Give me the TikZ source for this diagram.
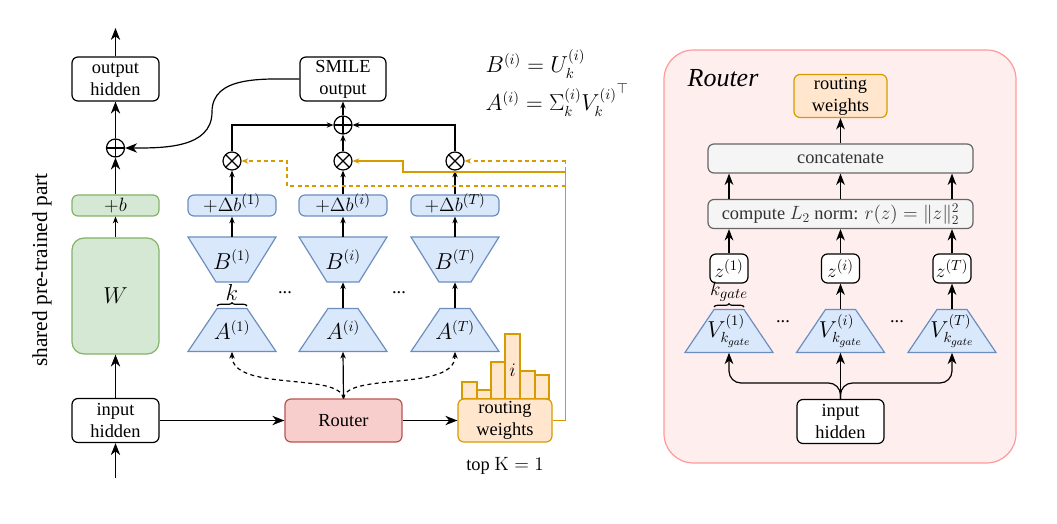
\documentclass[tikz,border=0pt]{standalone}
\usepackage{amsmath,amssymb}
\usepackage[no-math]{fontspec}
\setmainfont{Liberation Serif}
\usetikzlibrary{arrows.meta,calc,decorations.pathreplacing}
\definecolor{gfill}{HTML}{D5E8D4}\definecolor{gdraw}{HTML}{82B366}
\definecolor{bfill}{HTML}{DAE8FC}\definecolor{bdraw}{HTML}{6C8EBF}
\definecolor{rfill}{HTML}{F8CECC}\definecolor{rdraw}{HTML}{B85450}
\definecolor{ofill}{HTML}{FFE6CC}\definecolor{odraw}{HTML}{D79B00}
\definecolor{kfill}{HTML}{F5F5F5}\definecolor{kdraw}{HTML}{666666}\definecolor{ktext}{HTML}{333333}
\definecolor{pfill}{HTML}{FFEEEE}\definecolor{pdraw}{HTML}{FF9999}
\newcommand\trapup[4]{%
  \path[trapstyle] (#2-44,#3+21.5) -- (#2+44,#3+21.5) -- (#2+15,#3-21.5) -- (#2-15,#3-21.5) -- cycle;
  \node[trapnode] (#1) at (#2,#3) {#4};}
\newcommand\trapdown[4]{%
  \path[trapstyle] (#2-44,#3-22.5) -- (#2+44,#3-22.5) -- (#2+16,#3+22.5) -- (#2-16,#3+22.5) -- cycle;
  \node[trapnode,minimum height=33.75pt] (#1) at (#2,#3) {#4};}
\tikzset{
  every node/.style={font=\fontsize{13.8}{16.5}\selectfont},
  mathbig/.style={font=\fontsize{16}{18}\selectfont},
  lw/.style={line width=0.9pt},
  box/.style={draw,lw,rounded corners=4.5pt,align=center,inner sep=1pt,fill=white},
  iobox/.style={box,minimum width=65.25pt,minimum height=33pt},
  greenbox/.style={box,fill=gfill,draw=gdraw},
  bluebox/.style={box,fill=bfill,draw=bdraw,minimum width=66pt,minimum height=15.75pt,inner ysep=0pt,text height=10.5pt,text depth=1pt,font=\fontsize{15.5}{17}\selectfont},
  orangebox/.style={box,fill=ofill,draw=odraw},
  graybox/.style={box,fill=kfill,draw=kdraw,text=ktext,minimum width=198.75pt,minimum height=21.75pt},
  trapstyle/.style={fill=bfill,draw=bdraw,lw},
  trapnode/.style={rectangle,inner sep=0pt,minimum width=66pt,minimum height=32.25pt,mathbig},
  opplus/.style={circle,draw,lw,minimum size=13.5pt,inner sep=0pt,
    path picture={\draw[lw] (path picture bounding box.north)--(path picture bounding box.south)
      (path picture bounding box.west)--(path picture bounding box.east);}},
  optimes/.style={circle,draw,lw,minimum size=13.5pt,inner sep=0pt,
    path picture={\draw[lw] (path picture bounding box.north west)--(path picture bounding box.south east)
      (path picture bounding box.south west)--(path picture bounding box.north east);}},
  arrbig/.style={lw,-{Stealth[length=9pt,width=7pt,inset=2.8pt]}},
  arrmid/.style={lw,-{Stealth[length=8.5pt,width=6.5pt,inset=2.6pt]}},
  arrsmall/.style={lw,-{Stealth[length=5pt,width=4pt,inset=1.5pt]}},
  odash/.style={draw=odraw,lw,dash pattern=on 3pt off 2.5pt},
  bar/.style={fill=ofill,draw=odraw,lw},
}
\begin{document}
\begin{tikzpicture}[x=0.75pt,y=-0.75pt]
\useasboundingbox (0,0) rectangle (1057,524);
% ===== right panel background =====
\node[draw=pdraw,fill=pfill,line width=0.9pt,rounded corners=22pt,minimum width=264pt,minimum height=309.75pt,inner sep=0pt] (panel) at (840,256.5) {};
% ===== left: shared part =====
\node[iobox] (outh) at (115.5,79) {output\\hidden};
\node[opplus] (plus0) at (115.5,148) {};
\node[greenbox,minimum width=65.25pt,minimum height=15.75pt,inner ysep=0pt,font=\fontsize{15}{16}\selectfont] (bias) at (115.5,205.5) {$+b$};
\node[greenbox,rounded corners=9pt,minimum width=65.25pt,minimum height=87pt,mathbig] (W) at (115.5,296) {$W$};
\node[iobox] (inh) at (115.5,420.5) {input\\hidden};
\coordinate (inbot) at (115.5,478);
\coordinate (outtop) at (115.5,28);
\node[rotate=90,font=\fontsize{16}{18}\selectfont] (shared) at (42,270) {shared pre-trained part};
\draw[arrbig] (inbot) -- (inh.south);
\draw[arrbig] (inh.north) -- (W.south);
\draw[arrsmall] (W.north) -- (bias.south);
\draw[arrbig] (bias.north) -- (plus0.south);
\draw[arrbig] (plus0.north) -- (outh.south);
\draw[arrbig] (outh.north) -- (outtop);
% ===== experts =====
\node[iobox,minimum width=64.5pt] (smile) at (343,79) {SMILE\\output};
\node[opplus] (plusS) at (343,125) {};
\node[optimes] (t1) at (232,161) {};
\node[optimes] (ti) at (343,161) {};
\node[optimes] (tT) at (455,161) {};
\node[bluebox] (db1) at (232,205.5) {$+\Delta b^{(1)}$};
\node[bluebox] (dbi) at (343,205.5) {$+\Delta b^{(i)}$};
\node[bluebox] (dbT) at (455,205.5) {$+\Delta b^{(T)}$};
\trapdown{B1}{232}{259.5}{$B^{(1)}$}
\trapdown{Bi}{343}{259.5}{$B^{(i)}$}
\trapdown{BT}{455}{259.5}{$B^{(T)}$}
\trapup{A1}{232}{330}{$A^{(1)}$}
\trapup{Ai}{343}{330}{$A^{(i)}$}
\trapup{AT}{455}{330}{$A^{(T)}$}
\node (dl1) at (285,293) {...};
\node (dl2) at (399,293) {...};
\draw[lw,decorate,decoration={brace,amplitude=2.5pt}] (217,306) -- (247,306);
\node[mathbig] (klab) at (232,292) {$k$};
\node[box,fill=rfill,draw=rdraw,minimum width=87.75pt,minimum height=32.25pt] (router) at (343.5,420.5) {Router};
% bars
\draw[bar] (462,399) rectangle (477,382);
\draw[bar] (477,399) rectangle (491,390);
\draw[bar] (491,399) rectangle (505,362);
\draw[bar] (505,399) rectangle (520,334);
\draw[bar] (520,399) rectangle (535,371);
\draw[bar] (535,399) rectangle (549,375);
\node (ilab) at (512.5,370) {$i$};
\node[orangebox,minimum width=70.5pt,minimum height=32.25pt] (rw) at (505,420.5) {routing\\weights};
\node (topk) at (505,466) {top $\mathrm{K}=1$};
\node[anchor=west,mathbig] (eqB) at (481,64) {$B^{(i)}=U_k^{(i)}$};
\node[anchor=west,mathbig] (eqA) at (481,100) {$A^{(i)}=\Sigma_k^{(i)}{V_k^{(i)}}^{\top}$};
% connectors
\draw[arrsmall] (B1.north) -- (db1.south);
\draw[arrsmall] (Bi.north) -- (dbi.south);
\draw[arrsmall] (BT.north) -- (dbT.south);
\draw[arrsmall] (Ai.north) -- (Bi.south);
\draw[arrsmall] (AT.north) -- (BT.south);
\draw[arrsmall] (db1.north) -- (t1.south);
\draw[arrsmall] (dbi.north) -- (ti.south);
\draw[arrsmall] (dbT.north) -- (tT.south);
\draw[arrsmall] (t1.north) |- (plusS.west);
\draw[arrsmall] (tT.north) |- (plusS.east);
\draw[arrsmall] (ti.north) -- (plusS.south);
\draw[arrsmall] (plusS.north) -- (smile.south);
\draw[arrbig] (smile.west) to[out=180,in=90] (212,112) to[out=-90,in=0] (plus0.east);
\draw[arrbig] (inh.east) -- (router.west);
\draw[arrbig] (router.east) -- (rw.west);
\draw[arrsmall] (router.north) -- (Ai.south);
\draw[arrsmall,dash pattern=on 3pt off 2.5pt] (router.north) .. controls (340,372) and (232,392) .. (A1.south);
\draw[arrsmall,dash pattern=on 3pt off 2.5pt] (router.north) .. controls (346,372) and (455,392) .. (AT.south);
% orange routing
\coordinate (c1) at (565.5,420.5);
\draw[odash] (565.5,186) -- (565.5,162);
\draw[odash,-{Stealth[length=5pt,width=4pt,inset=1.5pt]}] (565.5,186) -- (287,186) -- (287,161) -- (t1.east);
\draw[odash,-{Stealth[length=5pt,width=4pt,inset=1.5pt]}] (565.5,161) -- (tT.east);
\draw[draw=odraw,lw,-{Stealth[length=5pt,width=4pt,inset=1.5pt]}] (rw.east) -- (c1) -- (565.5,172) -- (403,172) -- (403,161) -- (ti.east);
% ===== right panel =====
\node[font=\fontsize{19.5}{21}\selectfont\itshape] (rtitle) at (723,78) {Router};
\node[orangebox,minimum width=69.75pt,minimum height=32.25pt] (rw2) at (840.5,96) {routing\\weights};
\node[graybox] (concat) at (840.5,158.5) {concatenate};
\node[graybox] (norm) at (840.5,214) {compute $L_2$ norm: $r(z)=\|z\|_2^2$};
\node[box,minimum width=28.5pt,minimum height=21.75pt,inner sep=0pt,font=\fontsize{15}{16}\selectfont] (z1) at (729,268.5) {$z^{(1)}$};
\node[box,minimum width=28.5pt,minimum height=21.75pt,inner sep=0pt,font=\fontsize{15}{16}\selectfont] (zi) at (840.5,268.5) {$z^{(i)}$};
\node[box,minimum width=28.5pt,minimum height=21.75pt,inner sep=0pt,font=\fontsize{15}{16}\selectfont] (zT) at (952,268.5) {$z^{(T)}$};
\trapup{V1}{729}{331}{$V_{k_{gate}}^{(1)}$}
\trapup{Vi}{840.5}{331}{$V_{k_{gate}}^{(i)}$}
\trapup{VT}{952}{331}{$V_{k_{gate}}^{(T)}$}
\node (dr1) at (783,322) {...};
\node (dr2) at (897,322) {...};
\draw[lw,decorate,decoration={brace,amplitude=2.5pt}] (714,307) -- (744,307);
\node[font=\fontsize{15}{16}\selectfont] (kglab) at (729,292) {$k_{gate}$};
\node[iobox] (inh2) at (840.5,421.5) {input\\hidden};
\draw[arrmid] (concat.north) -- (rw2.south);
\draw[arrmid] (norm.north -| z1) -- (concat.south -| z1);
\draw[arrmid] (norm.north) -- (concat.south);
\draw[arrmid] (norm.north -| zT) -- (concat.south -| zT);
\draw[arrmid] (z1.north) -- (norm.south -| z1);
\draw[arrmid] (zi.north) -- (norm.south -| zi);
\draw[arrmid] (zT.north) -- (norm.south -| zT);
\draw[arrmid] (Vi.north) -- (zi.south);
\draw[arrmid] (VT.north) -- (zT.south);
\draw[arrmid] (inh2.north) -- (Vi.south);
\draw[arrmid,rounded corners=9pt] (inh2.north) -- (840.5,383) -- (729,383) -- (V1.south);
\draw[arrmid,rounded corners=9pt] (inh2.north) -- (840.5,383) -- (952,383) -- (VT.south);
\end{tikzpicture}
\end{document}
